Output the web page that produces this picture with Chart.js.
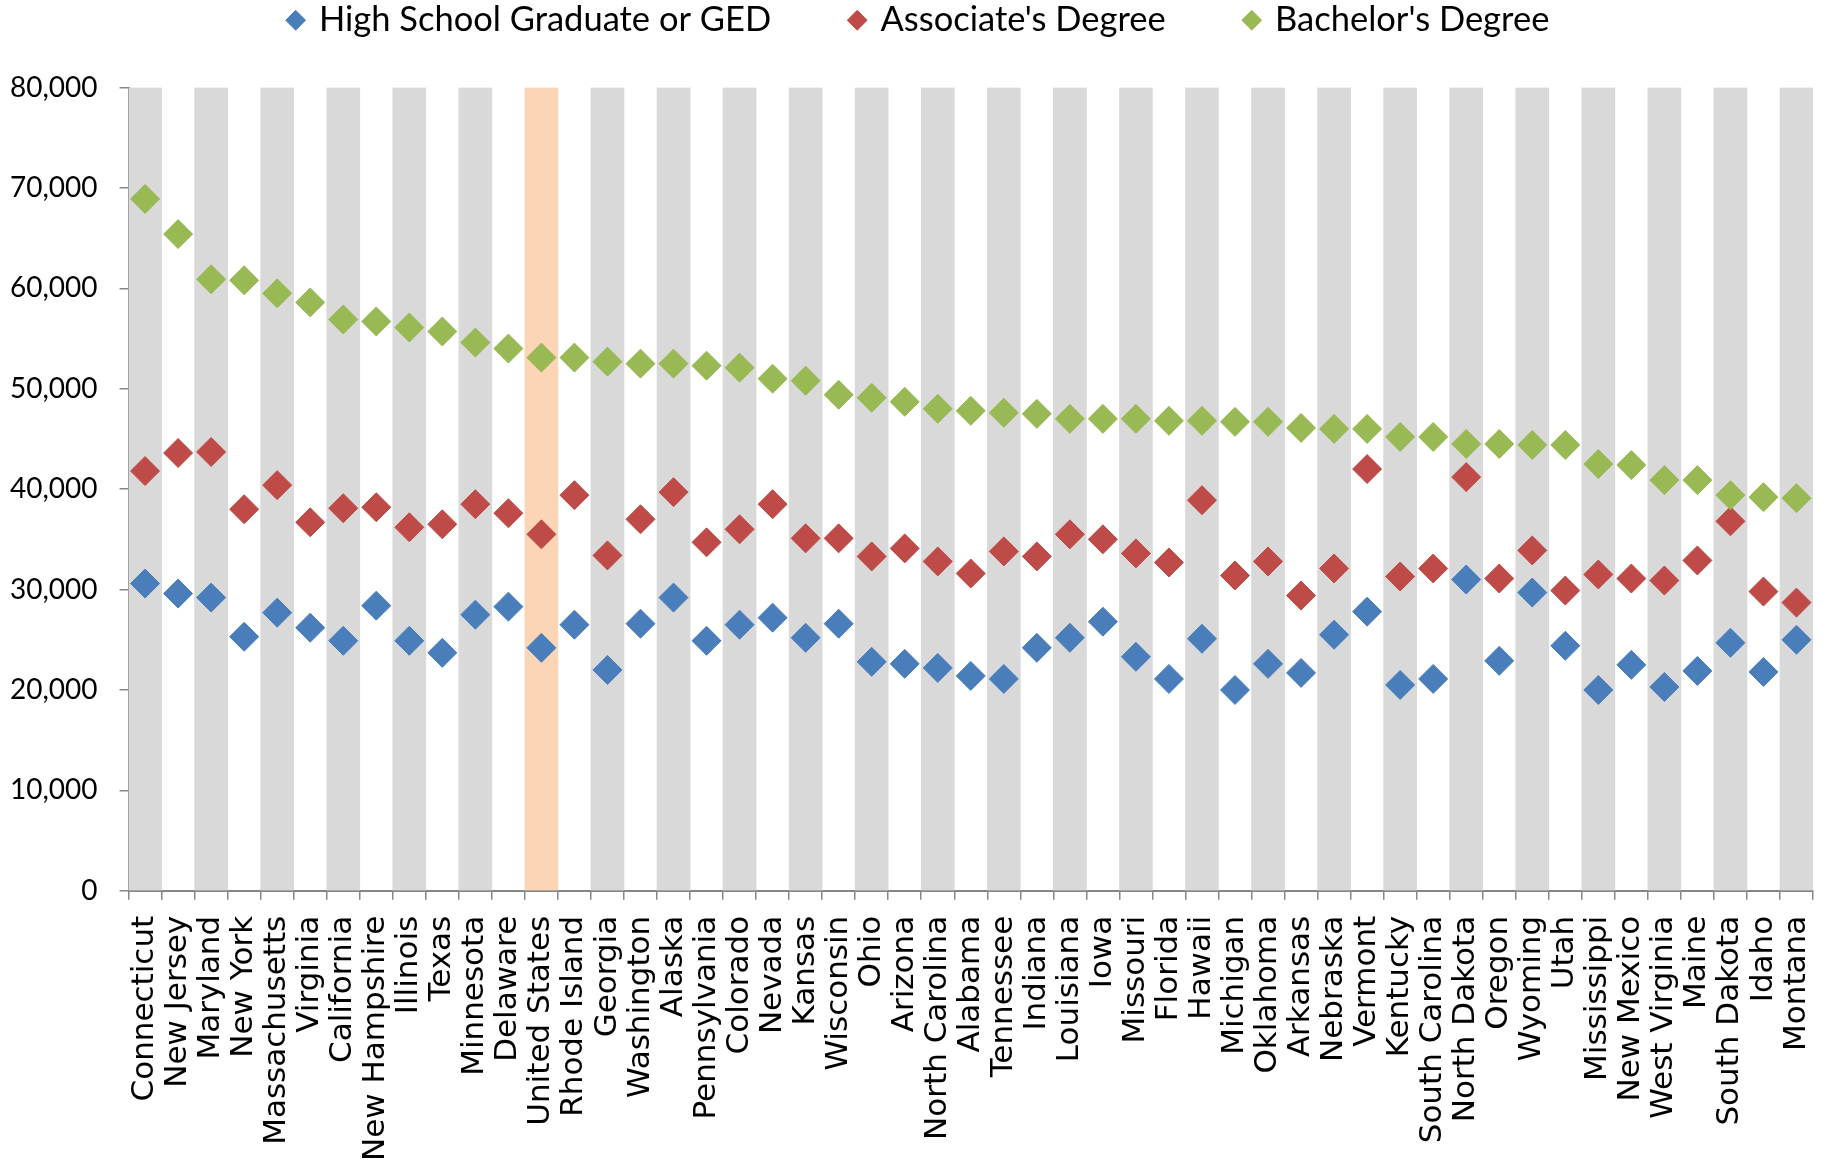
<!DOCTYPE html>
<html>
<head>
<meta charset="utf-8">
<style>
  body { margin: 0; background: #fff; }
  canvas { display: block; }
</style>
<script src="https://cdn.jsdelivr.net/npm/chart.js@4"></script>
</head>
<body>
<canvas id="eduChart" width="1833" height="1164"></canvas>
<script>
let states = [
  "Connecticut", "New Jersey", "Maryland", "New York", "Massachusetts",
  "Virginia", "California", "New Hampshire", "Illinois", "Texas",
  "Minnesota", "Delaware", "United States", "Rhode Island", "Georgia",
  "Washington", "Alaska", "Pennsylvania", "Colorado", "Nevada",
  "Kansas", "Wisconsin", "Ohio", "Arizona", "North Carolina",
  "Alabama", "Tennessee", "Indiana", "Louisiana", "Iowa",
  "Missouri", "Florida", "Hawaii", "Michigan", "Oklahoma",
  "Arkansas", "Nebraska", "Vermont", "Kentucky", "South Carolina",
  "North Dakota", "Oregon", "Wyoming", "Utah", "Mississippi",
  "New Mexico", "West Virginia", "Maine", "South Dakota", "Idaho",
  "Montana",
];
let highSchool = [
  30600, 29600, 29200, 25300, 27700, 26200, 24900, 28400, 24900, 23700,
  27500, 28300, 24200, 26500, 22000, 26600, 29200, 24900, 26500, 27200,
  25200, 26600, 22800, 22600, 22200, 21400, 21100, 24200, 25200, 26800,
  23300, 21100, 25100, 20000, 22600, 21700, 25500, 27800, 20500, 21100,
  31000, 22900, 29700, 24400, 20000, 22500, 20300, 21900, 24700, 21800,
  25000,
];
let associate = [
  41800, 43600, 43700, 38000, 40400, 36700, 38100, 38200, 36200, 36500,
  38500, 37600, 35500, 39400, 33400, 37000, 39700, 34700, 36000, 38500,
  35100, 35100, 33300, 34100, 32800, 31600, 33800, 33300, 35500, 35000,
  33600, 32700, 38900, 31400, 32800, 29400, 32100, 42000, 31300, 32100,
  41200, 31100, 33900, 29900, 31500, 31100, 30900, 32900, 36800, 29800,
  28700,
];
let bachelor = [
  68900, 65400, 60900, 60800, 59500, 58600, 56900, 56700, 56100, 55700,
  54600, 54000, 53100, 53100, 52700, 52500, 52500, 52300, 52100, 51000,
  50800, 49400, 49100, 48700, 48000, 47800, 47600, 47500, 47000, 47000,
  47000, 46800, 46800, 46700, 46700, 46100, 46000, 46000, 45200, 45200,
  44500, 44500, 44400, 44400, 42500, 42400, 40900, 40900, 39400, 39200,
  39100,
];
let yTicks = [0, 10000, 20000, 30000, 40000, 50000, 60000, 70000, 80000];
let highlight = "United States";

let yMax = yTicks[yTicks.length - 1];
// alternating grey stripes, the national figure gets its own colour
let stripes = states.map((s, i) => (i % 2 === 0 || s === highlight ? yMax : null));
let stripeColors = states.map((s) => (s === highlight ? "#fbd5b5" : "#d9d9d9"));

let axisGrey = "#868686";

// keep the legend high up, leave a gap under it, nudge it a bit right
const legendGap = {
  id: "legendGap",
  beforeInit(chart) {
    const fit = chart.legend.fit;
    const draw = chart.legend.draw;
    chart.legend.fit = function () {
      fit.call(this);
      this.height += 40;
    };
    chart.legend.draw = function () {
      this.ctx.save();
      this.ctx.translate(19, 0);
      draw.call(this);
      this.ctx.restore();
    };
  },
};

let pointSet = (label, data, color, order) => ({
  type: "line",
  label: label,
  data: data,
  showLine: false,
  order: order,
  backgroundColor: color,
  borderColor: color,
  borderWidth: 1,
  pointStyle: "rectRot",
  pointRadius: 14.5,
  pointHoverRadius: 14.5,
  pointBackgroundColor: color,
  pointBorderColor: color,
  pointBorderWidth: 1,
});

const ctx = document.getElementById("eduChart").getContext("2d");
const eduChart = new Chart(ctx, {
  type: "bar",
  data: {
    labels: states,
    datasets: [
      pointSet("High School Graduate or GED", highSchool, "#4a7ebb", 3),
      pointSet("Associate's Degree", associate, "#be4b48", 2),
      pointSet("Bachelor's Degree", bachelor, "#98b954", 1),
      {
        type: "bar",
        label: "stripes",
        data: stripes,
        order: 10,
        backgroundColor: stripeColors,
        borderWidth: 0,
        barPercentage: 1,
        categoryPercentage: 1,
      },
    ],
  },
  options: {
    responsive: false,
    devicePixelRatio: 1,
    animation: false,
    layout: {
      padding: { top: -77, left: -12, right: 20, bottom: -13 },
    },
    plugins: {
      tooltip: { enabled: false },
      legend: {
        position: "top",
        labels: {
          usePointStyle: true,
          boxWidth: 12,
          boxHeight: 14,
          padding: 80,
          color: "#000",
          font: { family: "Lato", size: 34.5 },
          filter: (item) => item.text !== "stripes",
          sort: (a, b) => a.datasetIndex - b.datasetIndex,
        },
      },
    },
    scales: {
      x: {
        afterFit: (axis) => {
          axis.paddingRight = 0;
        },
        grid: {
          drawOnChartArea: false,
          drawTicks: true,
          tickLength: 9,
          color: axisGrey,
          lineWidth: 1.5,
        },
        border: { color: axisGrey, width: 2 },
        ticks: {
          autoSkip: false,
          minRotation: 90,
          maxRotation: 90,
          padding: 16,
          color: "#000",
          font: { family: "DejaVu Sans", size: 31 },
        },
      },
      y: {
        min: 0,
        max: yMax,
        afterBuildTicks: (axis) => {
          axis.ticks = yTicks.map((v) => ({ value: v }));
        },
        grid: {
          drawOnChartArea: false,
          drawTicks: true,
          tickLength: 9,
          color: axisGrey,
          lineWidth: 1.5,
        },
        border: { color: axisGrey, width: 2 },
        ticks: {
          padding: 22,
          color: "#000",
          font: { family: "Lato", size: 28 },
          callback: (v) => v.toLocaleString("en-US"),
        },
      },
    },
  },
  plugins: [legendGap],
});
</script>
</body>
</html>
